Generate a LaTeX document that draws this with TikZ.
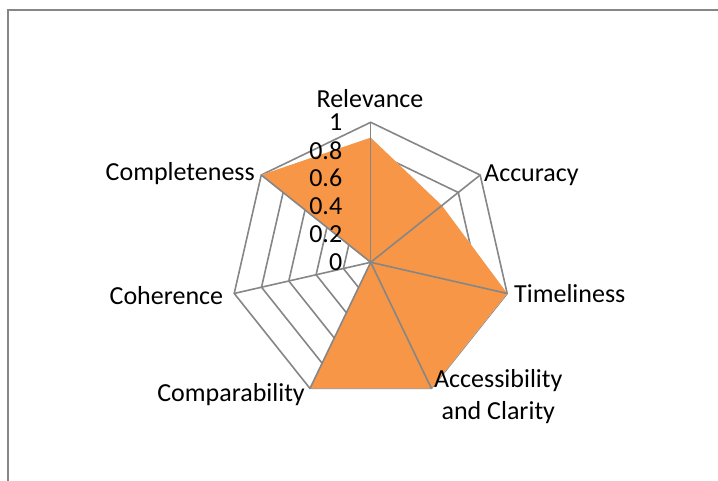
\documentclass[tikz,border=0pt]{standalone}
\usepackage{fontspec}
\setmainfont{Carlito}
\usepackage{tikz}
\usetikzlibrary{calc}
\definecolor{seriesOrange}{HTML}{F79646}
\definecolor{gridGray}{HTML}{868686}
\newcommand{\seriesColor}{seriesOrange}
\tikzset{
    series/.style = {fill=#1},
    series/.default = \seriesColor,
    seriesShadow/.style = {fill=black!18},
    gridline/.style = {draw=gridGray, line width=1.6pt, line join=miter},
    axislabel/.style = {inner sep=0pt, font=\fontsize{26}{31.6}\selectfont},
    ticklabel/.style = {inner sep=0pt, anchor=east, font=\fontsize{26}{30}\selectfont}
}

\begin{document}
\begin{tikzpicture}[x=1pt, y=1pt]
                \useasboundingbox (-370.7,-218.7) rectangle (347.3,262.3);
                % chart frame, only its left and top sides are inside the page
                \draw[gridGray, line width=2pt] (-362.4,-230) -- (-362.4,252) -- (360,252);
                
                % centre and the seven axis ends (value 1 = 140)
                \coordinate (O) at (0,0);
                \coordinate (Rel) at (90:140);
                \coordinate (Acc) at (38.57:140);
                \coordinate (Tim) at (-12.86:140);
                \coordinate (Acs) at (-64.29:140);
                \coordinate (Cmp) at (-115.71:140);
                \coordinate (Coh) at (-167.14:140);
                \coordinate (Cpl) at (141.43:140);
                % data points that are below 1
                \coordinate (RelV) at (90:124.6);
                \coordinate (AccV) at (38.57:91);
                
                % rings 0.2 ... 1
                \draw[gridline] (90:28) -- (38.57:28) -- (-12.86:28) -- (-64.29:28) -- (-115.71:28) -- (-167.14:28) -- (141.43:28) -- cycle;
                \draw[gridline] (90:56) -- (38.57:56) -- (-12.86:56) -- (-64.29:56) -- (-115.71:56) -- (-167.14:56) -- (141.43:56) -- cycle;
                \draw[gridline] (90:84) -- (38.57:84) -- (-12.86:84) -- (-64.29:84) -- (-115.71:84) -- (-167.14:84) -- (141.43:84) -- cycle;
                \draw[gridline] (90:112) -- (38.57:112) -- (-12.86:112) -- (-64.29:112) -- (-115.71:112) -- (-167.14:112) -- (141.43:112) -- cycle;
                \draw[gridline] (Rel) -- (Acc) -- (Tim) -- (Acs) -- (Cmp) -- (Coh) -- (Cpl) -- cycle;
                
                % series area with its soft shadow
                \fill[seriesShadow, shift={(1.5,-1.5)}] (RelV) -- (AccV) -- (Tim) -- (Acs) -- (Cmp) -- (O) -- (Cpl) -- cycle;
                \fill[series] (RelV) -- (AccV) -- (Tim) -- (Acs) -- (Cmp) -- (O) -- (Cpl) -- cycle;
                
                % spokes
                \draw[gridline] (O) -- (Rel);
                \draw[gridline] (O) -- (Acc);
                \draw[gridline] (O) -- (Tim);
                \draw[gridline] (O) -- (Acs);
                \draw[gridline] (O) -- (Cmp);
                \draw[gridline] (O) -- (Coh);
                \draw[gridline] (O) -- (Cpl);
                
                % scale
                \node[ticklabel] (t0) at (-28.3,0) {0};
                \node[ticklabel] (t2) at (-28.3,28) {0.2};
                \node[ticklabel] (t4) at (-28.3,56) {0.4};
                \node[ticklabel] (t6) at (-28.3,84) {0.6};
                \node[ticklabel] (t8) at (-28.3,112) {0.8};
                \node[ticklabel] (t10) at (-28.3,140) {1};
                
                % category names
                \node[axislabel, anchor=base] (relevance) at (-0.7,154.6) {Relevance};
                \node[axislabel, anchor=base west] (accuracy) at (113.3,80.6) {Accuracy};
                \node[axislabel, anchor=base west] (timeliness) at (143.3,-40) {Timeliness};
                \node[axislabel, anchor=north, align=center] (accessibility) at (127.6,-107) {Accessibility\\and Clarity};
                \node[axislabel, anchor=base east] (comparability) at (-65.7,-139.4) {Comparability};
                \node[axislabel, anchor=base east] (coherence) at (-147.4,-42) {Coherence};
                \node[axislabel, anchor=base east] (completeness) at (-115.7,81.6) {Completeness};
\end{tikzpicture}
\end{document}
